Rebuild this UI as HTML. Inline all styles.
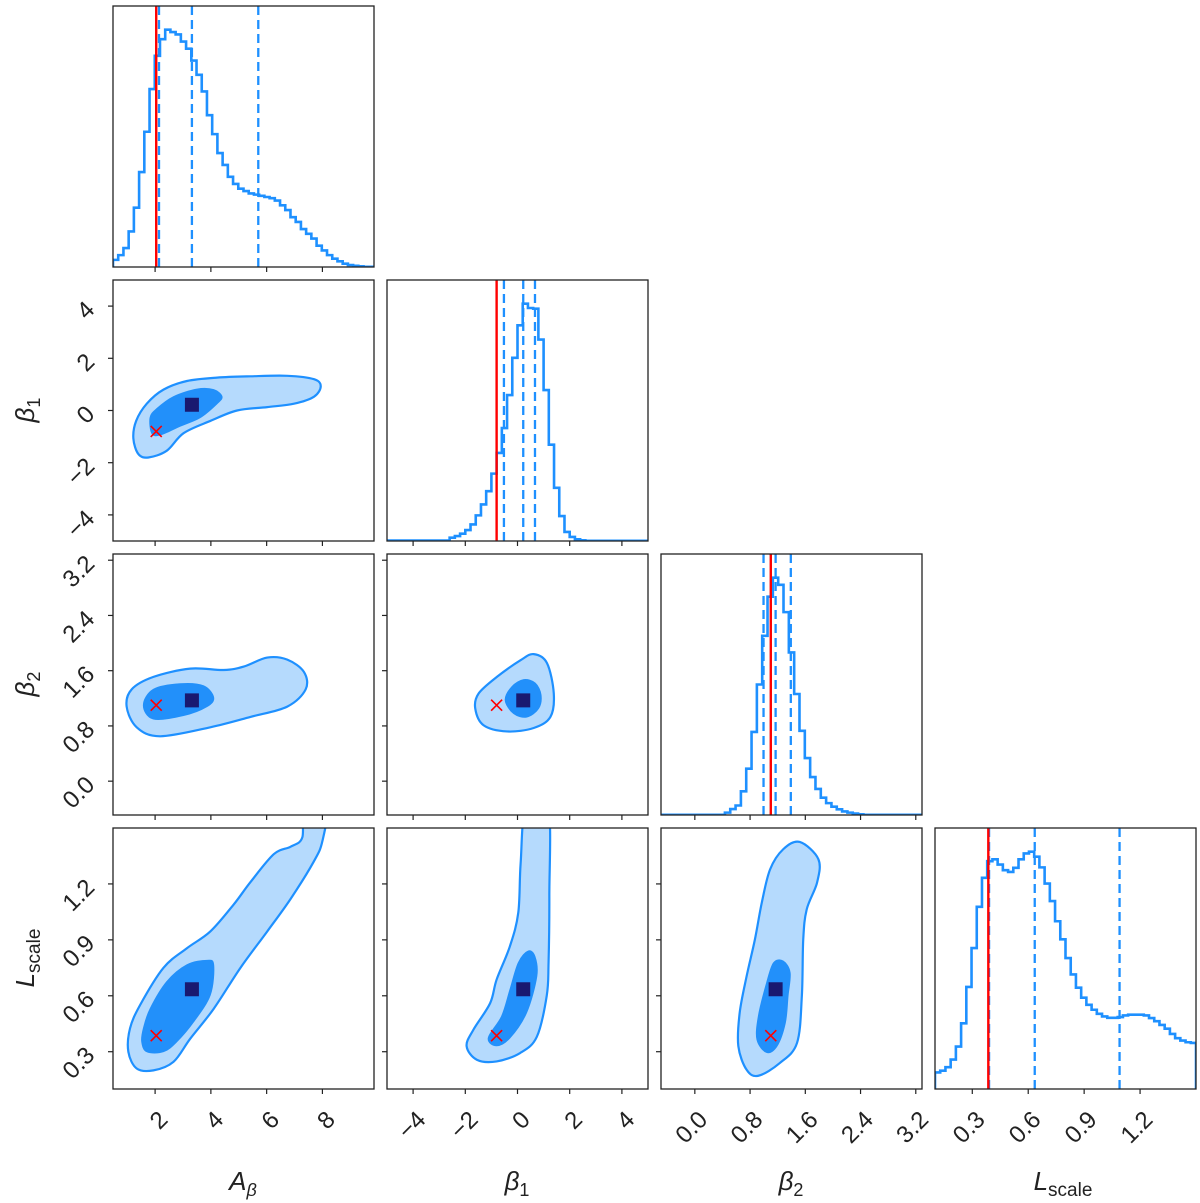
<!DOCTYPE html>
<html><head><meta charset="utf-8"><title>Corner plot</title>
<style>
html,body{margin:0;padding:0;background:#fff;}
svg{display:block;}
text{font-family:"Liberation Sans","DejaVu Sans",sans-serif;fill:#222;}
</style></head>
<body>
<svg id="chart" width="1200" height="1203" viewBox="0 0 1200 1203" xmlns="http://www.w3.org/2000/svg">
<rect x="0" y="0" width="1200" height="1203" fill="#fff"/>
<g id="plot"></g>
<g font-size="26" text-anchor="middle">
<text x="243" y="1190" font-style="italic">A<tspan font-size="18" dy="6">β</tspan></text>
<text x="517" y="1190" font-style="italic">β<tspan font-size="18" dy="6" font-style="normal">1</tspan></text>
<text x="791" y="1190" font-style="italic">β<tspan font-size="18" dy="6" font-style="normal">2</tspan></text>
<text x="1063" y="1190" font-style="italic">L<tspan font-size="19" dy="6" font-style="normal">scale</tspan></text>
</g>
<g font-size="26" text-anchor="middle">
<text x="0" y="0" transform="translate(34,410) rotate(-90)" font-style="italic">β<tspan font-size="18" dy="6" font-style="normal">1</tspan></text>
<text x="0" y="0" transform="translate(34,684) rotate(-90)" font-style="italic">β<tspan font-size="18" dy="6" font-style="normal">2</tspan></text>
<text x="0" y="0" transform="translate(34,958) rotate(-90)" font-style="italic">L<tspan font-size="19" dy="6" font-style="normal">scale</tspan></text>
</g>
</svg>
<script>
// ---- data ----
const paramNames = ["a-beta","beta1","beta2","lscale"];
const aRange = [0.49, 9.85];
const b1Range = [-5, 5];
const b2Range = [-0.49, 3.29];
const lRange = [0.1, 1.5];
const aTicks = [2,4,6,8];
const aTickLabels = ["2","4","6","8"];
const b1Ticks = [-4,-2,0,2,4];
const b1TickLabels = ["\u22124","\u22122","0","2","4"];
const b2Ticks = [0,0.8,1.6,2.4,3.2];
const b2TickLabels = ["0.0","0.8","1.6","2.4","3.2"];
const lTicks = [0.3,0.6,0.9,1.2];
const lTickLabels = ["0.3","0.6","0.9","1.2"];
const truthValues = [2.04,-0.8,1.1,0.386];
const medianValues = [3.32,0.22,1.17,0.635];
const aQuantiles = [2.14,3.32,5.7];
const b1Quantiles = [-0.52,0.22,0.67];
const b2Quantiles = [0.995,1.17,1.39];
const lQuantiles = [0.39,0.635,1.09];
const aHist = [0.03,0.05,0.08,0.15,0.25,0.40,0.57,0.75,0.89,0.96,1.0,0.99,0.98,0.95,0.92,0.87,0.81,0.74,0.64,0.56,0.48,0.43,0.38,0.35,0.33,0.32,0.31,0.305,0.30,0.295,0.29,0.28,0.26,0.24,0.21,0.19,0.16,0.14,0.12,0.09,0.07,0.05,0.035,0.024,0.014,0.008,0.005,0.003,0.001,0.001];
const b1Hist = [0.002,0.002,0.002,0.002,0.002,0.002,0.002,0.002,0.002,0.002,0.002,0.002,0.014,0.021,0.031,0.046,0.07,0.108,0.154,0.21,0.284,0.371,0.476,0.615,0.772,0.909,1.0,0.982,0.979,0.849,0.636,0.406,0.224,0.105,0.038,0.017,0.007,0.003,0.001,0.001,0.001,0.001,0.001,0.001,0.001,0.001,0.001,0.001,0.001,0.001];
const b2Hist = [0.001,0.001,0.001,0.001,0.001,0.001,0.001,0.001,0.001,0.001,0.001,0.001,0.01,0.025,0.04,0.10,0.195,0.35,0.55,0.755,0.92,1.0,0.97,0.855,0.685,0.51,0.355,0.24,0.16,0.11,0.073,0.05,0.035,0.024,0.015,0.01,0.006,0.003,0.001,0.001,0.001,0.001,0.001,0.001,0.001,0.001,0.001,0.001,0.001];
const lHist = [0.07,0.077,0.092,0.124,0.179,0.277,0.43,0.594,0.768,0.89,0.96,0.968,0.946,0.922,0.915,0.932,0.968,0.993,1.0,0.979,0.934,0.866,0.792,0.707,0.631,0.552,0.483,0.427,0.385,0.355,0.334,0.317,0.306,0.30,0.30,0.303,0.31,0.313,0.313,0.313,0.31,0.299,0.286,0.27,0.254,0.232,0.214,0.204,0.197,0.194];
// contour outlines in data units [x, y]
const ab1Outer = [[1.22,-1.07],[1.40,-1.67],[1.76,-1.80],[2.42,-1.54],[3.02,-0.87],[3.98,-0.40],[4.94,0],[6.02,0.13],[6.98,0.26],[7.70,0.53],[7.94,0.93],[7.70,1.20],[6.74,1.33],[5.42,1.31],[4.22,1.26],[3.14,1.13],[2.30,0.80],[1.70,0.26],[1.32,-0.40]];
const ab1Inner = [[1.82,-0.27],[1.88,-0.87],[2.18,-0.94],[2.90,-0.60],[3.62,-0.27],[4.22,0.26],[4.40,0.53],[4.10,0.80],[3.50,0.82],[2.66,0.53],[2.06,0.07]];
const ab2Outer = [[0.98,1.08],[1.34,0.78],[2.18,0.65],[3.98,0.78],[5.42,0.93],[6.74,1.08],[7.40,1.33],[7.34,1.58],[6.74,1.76],[6.02,1.79],[5.18,1.66],[4.46,1.61],[3.26,1.63],[1.94,1.51],[1.16,1.33]];
const ab2Inner = [[1.58,1.10],[1.94,0.90],[3.02,0.95],[3.86,1.08],[4.10,1.21],[3.74,1.38],[2.90,1.41],[1.94,1.33]];
const alOuter = [[1.04,0.30],[1.34,0.21],[1.94,0.20],[2.66,0.246],[3.26,0.37],[4.10,0.53],[5.06,0.75],[6.02,0.945],[6.86,1.12],[7.69,1.32],[8.0,1.43],[8.15,1.62],[7.35,1.62],[7.28,1.45],[6.86,1.40],[6.26,1.36],[5.42,1.21],[4.82,1.09],[3.98,0.945],[3.14,0.855],[2.30,0.75],[1.46,0.55],[1.10,0.425]];
const alInner = [[1.52,0.354],[1.70,0.30],[2.30,0.30],[2.78,0.354],[3.38,0.46],[3.98,0.605],[4.10,0.766],[3.86,0.79],[3.14,0.766],[2.42,0.676],[1.82,0.53],[1.58,0.425]];
const b1b2Outer = [[-1.62,1.055],[-1.30,0.81],[-0.40,0.72],[0.62,0.77],[1.26,0.93],[1.39,1.27],[1.13,1.71],[0.62,1.84],[0.11,1.75],[-0.79,1.51],[-1.49,1.27]];
const b1b2Inner = [[-0.47,1.175],[-0.15,0.98],[0.36,0.93],[0.81,1.055],[0.90,1.25],[0.68,1.42],[0.24,1.47],[-0.21,1.37]];
const b1lOuter = [[-1.95,0.33],[-1.56,0.257],[-0.80,0.248],[0.10,0.293],[0.74,0.38],[1.12,0.60],[1.19,0.777],[1.22,1.135],[1.17,1.62],[0.33,1.62],[0.12,1.31],[0.03,1.046],[-0.29,0.866],[-0.80,0.687],[-1.05,0.56],[-1.69,0.418]];
const b1lInner = [[-1.12,0.374],[-0.80,0.332],[-0.29,0.374],[0.35,0.51],[0.74,0.705],[0.67,0.81],[0.41,0.84],[0.03,0.777],[-0.29,0.633],[-0.61,0.49]];
const b2lOuter = [[0.63,0.33],[0.75,0.203],[0.92,0.171],[1.23,0.239],[1.48,0.347],[1.55,0.60],[1.57,0.902],[1.62,1.063],[1.77,1.207],[1.79,1.332],[1.52,1.425],[1.28,1.386],[1.09,1.278],[0.97,1.10],[0.87,0.902],[0.75,0.705],[0.65,0.51]];
const b2lInner = [[0.90,0.365],[1.04,0.296],[1.19,0.33],[1.31,0.454],[1.35,0.60],[1.38,0.723],[1.28,0.786],[1.14,0.777],[1.04,0.67],[0.92,0.49]];

// ---- layout ----
const NS = "http://www.w3.org/2000/svg";
const colX = [113,387,661,935], rowY = [6,280,554,828], S = 261;
const ranges = [aRange,b1Range,b2Range,lRange];
const ticks = [aTicks,b1Ticks,b2Ticks,lTicks];
const tickLabels = [aTickLabels,b1TickLabels,b2TickLabels,lTickLabels];
const hists = [aHist,b1Hist,b2Hist,lHist];
const quantiles = [aQuantiles,b1Quantiles,b2Quantiles,lQuantiles];
const BLUE = "#1e90ff", LIGHT = "#b5dafd", MID = "#2290fa";
const root = document.getElementById("plot");

function mk(tag, attrs, parent){
  const e = document.createElementNS(NS, tag);
  for (const k in attrs) e.setAttribute(k, attrs[k]);
  (parent||root).appendChild(e);
  return e;
}
function sx(p, col, v){ const r = ranges[p]; return colX[col] + (v - r[0])/(r[1]-r[0])*S; }
function sy(p, row, v){ const r = ranges[p]; return rowY[row] + S - (v - r[0])/(r[1]-r[0])*S; }

function smoothClosed(pts){
  const n = pts.length; let d = "M" + pts[0][0].toFixed(2) + "," + pts[0][1].toFixed(2);
  for (let i=0;i<n;i++){
    const p0=pts[(i-1+n)%n], p1=pts[i], p2=pts[(i+1)%n], p3=pts[(i+2)%n];
    const c1=[p1[0]+(p2[0]-p0[0])/6, p1[1]+(p2[1]-p0[1])/6];
    const c2=[p2[0]-(p3[0]-p1[0])/6, p2[1]-(p3[1]-p1[1])/6];
    d += "C"+c1[0].toFixed(2)+","+c1[1].toFixed(2)+" "+c2[0].toFixed(2)+","+c2[1].toFixed(2)+" "+p2[0].toFixed(2)+","+p2[1].toFixed(2);
  }
  return d + "Z";
}

const defs = mk("defs", {});
for (let r=0;r<4;r++) for (let c=0;c<=r;c++){
  const cp = mk("clipPath", {id:"clip"+r+c}, defs);
  mk("rect", {x:colX[c], y:rowY[r], width:S, height:S}, cp);
}

function xTicks(row, col, p, withLabels){
  const g = mk("g", {});
  
  
  ticks[p].forEach((t, k) => {
    const x = sx(p, col, t), yb = rowY[row] + S;
    const tk = mk("line", {x1:x, x2:x, y1:yb, y2:yb+5, stroke:"#222", "stroke-width":1.2}, g);
    
    
    if (withLabels){
      const ex = x + 14, ey = 1121;
      const tx = mk("text", {x:ex, y:ey, "font-size":24, "text-anchor":"end", transform:"rotate(-45 "+ex+" "+ey+")"}, g);
      tx.textContent = tickLabels[p][k];
      
      
    }
  });
}
function yTicks(row, col, p, withLabels){
  const g = mk("g", {});
  
  
  ticks[p].forEach((t, k) => {
    const y = sy(p, row, t), xl = colX[col];
    const tk = mk("line", {x1:xl-5, x2:xl, y1:y, y2:y, stroke:"#222", "stroke-width":1.2}, g);
    
    
    if (withLabels){
      const ex = 96, ey = y + 5;
      const tx = mk("text", {x:ex, y:ey, "font-size":24, "text-anchor":"end", transform:"rotate(-45 "+ex+" "+ey+")"}, g);
      tx.textContent = tickLabels[p][k];
      
      
    }
  });
}

// histograms (diagonal)
for (let p=0;p<4;p++){
  const g = mk("g", {"clip-path":"url(#clip"+p+p+")"});
  
  
  const h = hists[p], n = h.length, r = ranges[p];
  const maxH = Math.max(...h) * 1.1;
  const base = rowY[p] + S;
  const yv = v => base - v/maxH*S;
  const edge = k => sx(p, p, r[0] + (r[1]-r[0])*k/n);
  let d = "M"+edge(0)+","+base;
  for (let k=0;k<n;k++){ d += "L"+edge(k)+","+yv(h[k])+"L"+edge(k+1)+","+yv(h[k]); }
  d += "L"+edge(n)+","+base;
  const path = mk("path", {d:d, fill:"none", stroke:BLUE, "stroke-width":2.6, "stroke-linejoin":"miter"}, g);
  
  
  quantiles[p].forEach(q => {
    const x = sx(p, p, q);
    const ql = mk("line", {x1:x, x2:x, y1:rowY[p], y2:base, stroke:BLUE, "stroke-width":2.3, "stroke-dasharray":"9,5"}, g);
    
    
  });
  const tx = sx(p, p, truthValues[p]);
  const tl = mk("line", {x1:tx, x2:tx, y1:rowY[p], y2:base, stroke:"#ff0000", "stroke-width":2.4}, g);
  
  
  const fr = mk("rect", {x:colX[p], y:rowY[p], width:S, height:S, fill:"none", stroke:"#222", "stroke-width":1.3});
  
  
  xTicks(p, p, p, p===3);
}

// 2D panels
const pairs = [
  [1,0,ab1Outer,ab1Inner],[2,0,ab2Outer,ab2Inner],[3,0,alOuter,alInner],
  [2,1,b1b2Outer,b1b2Inner],[3,1,b1lOuter,b1lInner],[3,2,b2lOuter,b2lInner]
];
pairs.forEach(pr => {
  const row = pr[0], col = pr[1];
  const g = mk("g", {"clip-path":"url(#clip"+row+col+")"});
  
  
  const toPx = pts => pts.map(q => [sx(col, col, q[0]), sy(row, row, q[1])]);
  const o = mk("path", {d:smoothClosed(toPx(pr[2])), fill:LIGHT, stroke:BLUE, "stroke-width":2.2}, g);
  
  
  const inn = mk("path", {d:smoothClosed(toPx(pr[3])), fill:MID, stroke:MID, "stroke-width":1}, g);
  
  
  const mx = sx(col, col, medianValues[col]), my = sy(row, row, medianValues[row]);
  const sq = mk("rect", {x:mx-7, y:my-7, width:14, height:14, fill:"#191970"}, g);
  
  
  const tx = sx(col, col, truthValues[col]), ty = sy(row, row, truthValues[row]);
  const cr = mk("path", {d:"M"+(tx-5.5)+","+(ty-5.5)+"L"+(tx+5.5)+","+(ty+5.5)+"M"+(tx-5.5)+","+(ty+5.5)+"L"+(tx+5.5)+","+(ty-5.5), stroke:"#ff0000", "stroke-width":1.6, fill:"none"}, g);
  
  
  const fr = mk("rect", {x:colX[col], y:rowY[row], width:S, height:S, fill:"none", stroke:"#222", "stroke-width":1.3});
  
  
  xTicks(row, col, col, row===3);
  yTicks(row, col, row, col===0);
});
</script>
</body></html>
